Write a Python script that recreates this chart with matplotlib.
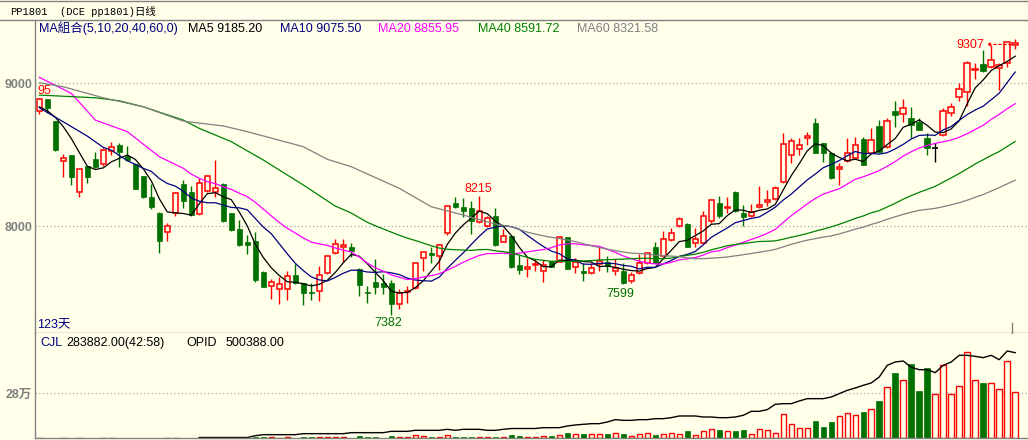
import numpy as np
import pandas as pd
import matplotlib
matplotlib.use("Agg")
import matplotlib.pyplot as plt
from matplotlib.lines import Line2D
from matplotlib.transforms import offset_copy

# -------------------------------
# DATA (PP1801 daily, 123 sessions)
# -------------------------------
opens = [
    8805, 8888, 8736, 8455, 8499, 8238, 8422, 8471, 8438, 8527,   # 0
    8569, 8494, 8436, 8352, 8207, 8094, 7962, 8095, 8296, 8238,   # 10
    8084, 8249, 8238, 8296, 8091, 7979, 7888, 7897, 7681, 7583,   # 20
    7564, 7559, 7659, 7601, 7541, 7548, 7671, 7811, 7857, 7853,   # 30
    7702, 7541, 7611, 7606, 7601, 7457, 7541, 7566, 7776, 7811,   # 40
    7795, 7951, 8161, 8137, 8130, 8032, 8002, 8074, 7892, 7932,   # 50
    7729, 7699, 7727, 7690, 7757, 7753, 7923, 7713, 7688, 7676,   # 60
    7736, 7748, 7690, 7685, 7620, 7671, 7741, 7858, 7792, 7901,   # 70
    8000, 8016, 7885, 7881, 8039, 8166, 8130, 8240, 8093, 8074,   # 80
    8137, 8168, 8189, 8312, 8499, 8538, 8615, 8720, 8580, 8515,   # 90
    8399, 8457, 8480, 8608, 8510, 8702, 8557, 8806, 8783, 8755,   # 100
    8731, 8615, 8545, 8636, 8790, 8906, 8941, 9091, 9135, 9116,   # 110
    9105, 9140, 9266,                                             # 120
]
highs = [
    8895, 8892, 8740, 8504, 8502, 8402, 8425, 8517, 8545, 8592,
    8585, 8562, 8440, 8355, 8296, 8097, 8021, 8240, 8324, 8282,
    8336, 8357, 8464, 8300, 8095, 8044, 7939, 7962, 7685, 7634,
    7643, 7690, 7736, 7606, 7601, 7722, 7797, 7909, 7909, 7885,
    7706, 7585, 7771, 7664, 7627, 7564, 7583, 7746, 7823, 7853,
    7874, 8149, 8205, 8198, 8179, 8215, 8072, 8126, 7979, 7937,
    7799, 7776, 7764, 7764, 7760, 7930, 7927, 7776, 7741, 7741,
    7853, 7792, 7771, 7741, 7680, 7806, 7820, 7892, 7969, 7990,
    8067, 8021, 7986, 8109, 8189, 8212, 8203, 8247, 8149, 8156,
    8282, 8254, 8282, 8650, 8615, 8615, 8662, 8755, 8585, 8520,
    8441, 8615, 8622, 8622, 8685, 8743, 8755, 8878, 8888, 8836,
    8755, 8650, 8580, 8825, 8860, 9000, 9158, 9140, 9233, 9261,
    9140, 9291, 9307,
]
lows = [
    8789, 8790, 8529, 8347, 8289, 8207, 8305, 8410, 8420, 8499,
    8413, 8460, 8260, 8200, 8123, 7815, 7899, 8072, 8126, 8072,
    8080, 8240, 8207, 8030, 7965, 7865, 7806, 7613, 7575, 7490,
    7457, 7485, 7597, 7448, 7485, 7480, 7668, 7806, 7753, 7783,
    7515, 7462, 7527, 7527, 7382, 7420, 7462, 7562, 7690, 7741,
    7694, 7940, 8126, 8063, 7946, 8021, 7995, 7862, 7888, 7711,
    7667, 7643, 7688, 7613, 7715, 7753, 7702, 7671, 7620, 7669,
    7690, 7680, 7659, 7599, 7604, 7664, 7736, 7741, 7785, 7897,
    7995, 7853, 7858, 7876, 8021, 8056, 8091, 8102, 8004, 8067,
    8130, 8140, 8184, 8305, 8441, 8499, 8569, 8510, 8452, 8330,
    8289, 8450, 8476, 8429, 8503, 8515, 8550, 8697, 8731, 8615,
    8673, 8499, 8452, 8629, 8771, 8878, 8841, 9028, 9081, 9110,
    8953, 9112, 9238,
]
closes = [
    8888, 8825, 8534, 8476, 8347, 8399, 8347, 8417, 8534, 8557,
    8522, 8464, 8263, 8203, 8137, 7899, 8002, 8231, 8179, 8079,
    8301, 8352, 8266, 8039, 7974, 7869, 7867, 7624, 7578, 7611,
    7599, 7652, 7601, 7531, 7532, 7657, 7792, 7874, 7871, 7825,
    7590, 7532, 7573, 7578, 7457, 7532, 7548, 7741, 7818, 7799,
    7869, 8142, 8133, 8109, 8039, 8107, 8056, 7869, 7932, 7718,
    7694, 7715, 7734, 7729, 7718, 7923, 7702, 7753, 7671, 7706,
    7760, 7722, 7706, 7606, 7659, 7741, 7811, 7746, 7909, 7951,
    8049, 7858, 7909, 8072, 8184, 8072, 8137, 8109, 8063, 8102,
    8149, 8184, 8266, 8573, 8599, 8569, 8631, 8515, 8510, 8336,
    8417, 8515, 8569, 8429, 8604, 8522, 8736, 8778, 8825, 8708,
    8673, 8545, 8545, 8808, 8836, 8958, 9140, 9098, 9088, 9163,
    9128, 9291, 9280,
]

# volume (CJL) and open interest, in 万 lots
volume = [
    0.12, 0.10, 0.15, 0.10, 0.12, 0.10, 0.10, 0.12, 0.10, 0.10,
    0.15, 0.10, 0.12, 0.12, 0.15, 0.20, 0.15, 0.15, 0.20, 0.20,
    0.25, 0.20, 0.25, 0.20, 0.25, 0.30, 0.25, 0.62, 0.62, 0.41,
    0.10, 0.41, 0.10, 0.41, 0.41, 0.41, 0.41, 0.41, 0.41, 0.20,
    1.04, 0.62, 0.62, 0.20, 1.04, 0.41, 0.41, 1.66, 1.04, 0.62,
    0.83, 2.07, 0.83, 0.83, 0.83, 0.83, 0.83, 0.83, 0.83, 1.66,
    1.04, 0.41, 0.83, 1.45, 1.04, 1.66, 2.90, 2.69, 2.28, 2.28,
    2.69, 2.28, 3.32, 2.28, 1.45, 2.69, 3.32, 1.66, 2.69, 3.11,
    2.69, 4.14, 2.07, 4.56, 5.80, 4.77, 4.14, 4.14, 4.77, 2.69,
    5.80, 5.18, 3.32, 15.13, 8.91, 6.42, 6.42, 10.36, 6.63, 9.74,
    13.88, 15.75, 14.50, 15.95, 18.23, 22.79, 31.91, 40.20, 36.26, 45.79,
    29.01, 43.72, 27.14, 45.17, 27.56, 32.53, 53.66, 36.26, 33.98, 33.98,
    30.67, 48.07, 28.39,
]
nan = np.nan
open_interest = [
    nan, nan, nan, nan, nan, nan, nan, nan, nan, nan,
    nan, nan, nan, nan, nan, nan, nan, nan, nan, nan,
    0.30, 0.30, 0.30, 0.30, 0.30, 0.30, 0.30, 1.45, 2.07, 2.07,
    2.07, 2.07, 2.07, 2.69, 2.69, 2.69, 2.69, 2.69, 2.69, 3.32,
    3.32, 3.32, 3.32, 3.32, 4.14, 4.14, 4.14, 4.77, 4.77, 4.77,
    4.77, 5.39, 4.77, 5.39, 5.39, 5.39, 4.77, 4.77, 5.39, 5.90,
    5.90, 5.90, 5.90, 6.42, 6.42, 6.42, 7.46, 8.08, 8.50, 8.91,
    8.91, 9.95, 11.40, 10.98, 10.98, 11.40, 11.40, 12.02, 12.02, 12.64,
    13.68, 13.68, 13.68, 13.05, 13.05, 12.64, 12.64, 13.05, 14.09, 16.58,
    16.58, 17.61, 20.93, 21.34, 21.34, 23.00, 24.45, 24.45, 24.45, 25.49,
    27.56, 29.63, 31.08, 32.74, 34.19, 37.92, 45.17, 47.24, 47.86, 43.93,
    42.48, 42.48, 40.61, 45.17, 47.24, 51.39, 51.39, 50.76, 49.94, 51.39,
    48.69, 54.08, 53.04,
]

# start of each MA line, before its window is full
ma_heads = {
    5: ([0, 1, 2, 3], [8836, 8808, 8762, 8697]),
    10: ([0, 3, 6, 8], [8829, 8731, 8631, 8552]),
    20: ([0, 4, 7, 11, 15, 18], [9042, 8930, 8743, 8662, 8487, 8406]),
    40: ([0, 7, 10, 13, 18, 20, 24, 28, 33, 37],
         [8918, 8899, 8878, 8836, 8743, 8685, 8592, 8464, 8289, 8142]),
    60: ([0, 3, 8, 13, 18, 20, 23, 26, 33, 36, 39, 45, 49, 53, 57],
         [9004, 8976, 8899, 8836, 8736, 8722, 8702, 8662, 8557, 8469,
          8417, 8266, 8137, 8079, 8016]),
}
ma_colors = {5: 'black', 10: '#000080', 20: '#FF00FF', 40: '#008000', 60: '#808080'}
legend_items = [
    ('MA組合(5,10,20,40,60,0)', '#000080', 39),
    ('MA5 9185.20', 'black', 188),
    ('MA10 9075.50', '#000080', 280),
    ('MA20 8855.95', '#FF00FF', 378),
    ('MA40 8591.72', '#008000', 478),
    ('MA60 8321.58', '#808080', 577),
]
price_grid = [8000, 9000]
vol_grid = [28]

df = pd.DataFrame({'open': opens, 'high': highs, 'low': lows, 'close': closes,
                   'vol': volume, 'oi': open_interest})

# -------------------------------
# STYLE / LAYOUT
# -------------------------------
W, H = 1028, 440
BG = '#FFFFEA'
RED = '#FF0000'
GREEN = '#007000'
GRAY = '#808080'
plt.rcParams['font.family'] = ['Liberation Sans', 'Noto Sans CJK SC']

fig = plt.figure(figsize=(W / 100, H / 100), dpi=100, facecolor=BG)
ax = fig.add_axes([35 / W, 1 - 333 / H, (W - 35) / W, (333 - 20) / H], facecolor=BG)
axv = fig.add_axes([35 / W, 1 - 438 / H, (W - 35) / W, (438 - 333) / H], facecolor=BG)

for a in (ax, axv):
    a.set_xlim(-0.54, 123.6)
    a.set_xticks([])
    for s in ('top', 'right'):
        a.spines[s].set_visible(False)
    for s in ('left', 'bottom'):
        a.spines[s].set_color(GRAY)
        a.spines[s].set_linewidth(1.0)
    a.tick_params(axis='y', length=0, pad=2, labelcolor=GRAY, labelsize=9)

ax.set_ylim(7254, 9443)
axv.set_ylim(0, 65.27)

# -------------------------------
# CANDLES
# -------------------------------
w = 0.68
up = df[df.close > df.open]
dn = df[df.close < df.open]
flat = df[df.close == df.open]

ax.vlines(up.index, up.close, up.high, color=RED, lw=1)
ax.vlines(up.index, up.low, up.open, color=RED, lw=1)
ax.bar(up.index, up.close - up.open, bottom=up.open, width=w,
       facecolor=BG, edgecolor=RED, lw=1.1, zorder=2)
ax.vlines(dn.index, dn.low, dn.high, color=GREEN, lw=1)
ax.bar(dn.index, dn.open - dn.close, bottom=dn.close, width=w,
       color=GREEN, edgecolor=GREEN, lw=0.5, zorder=2)
ax.vlines(flat.index, flat.low, flat.high, color='black', lw=1)
ax.hlines(flat.close, flat.index - w / 2, flat.index + w / 2, color='black', lw=1.2)

# moving averages
for n, (hi_idx, hi_val) in ma_heads.items():
    full = df['close'].rolling(n).mean()
    xs = list(hi_idx) + list(range(n - 1, len(df)))
    ys = list(hi_val) + list(full.iloc[n - 1:])
    ax.plot(xs, ys, color=ma_colors[n], lw=0.9, zorder=3)

for g in price_grid:
    ax.axhline(g, color='#A8A8A8', lw=0.9, ls=(0, (1, 2)), zorder=0)
ax.set_yticks(price_grid)
ax.set_yticklabels([str(g) for g in price_grid], fontweight='bold')

# high / low marks
i_hi = int(df['high'].idxmax())
i_lo = int(df['low'].idxmin())
i_mid_hi = int(df['high'].iloc[40:70].idxmax())
i_mid_lo = int(df['low'].iloc[60:90].idxmin())

ax.annotate('95', xy=(0, highs[0]), xytext=(-2, 4), textcoords='offset pixels',
            ha='left', va='baseline', color=RED, fontsize=9)
ax.annotate(f'{highs[i_mid_hi]}', xy=(i_mid_hi, highs[i_mid_hi]), xytext=(-1, 4),
            textcoords='offset pixels', ha='center', va='baseline', color=RED, fontsize=9)
ax.annotate(f'{lows[i_lo]}', xy=(i_lo, lows[i_lo]), xytext=(-3, -2),
            textcoords='offset pixels', ha='center', va='top', color=GREEN, fontsize=9)
ax.annotate(f'{lows[i_mid_lo]}', xy=(i_mid_lo, lows[i_mid_lo]), xytext=(-3, -4),
            textcoords='offset pixels', ha='center', va='top', color=GREEN, fontsize=9)
ax.annotate(f'{highs[i_hi]}', xy=(i_hi, highs[i_hi]), xytext=(-31, 0),
            textcoords='offset pixels', ha='right', va='top', color=RED, fontsize=9)
tr = offset_copy(ax.transData, fig=fig, x=0, y=-5, units='dots')
ax.annotate('', xy=(i_hi - 3.6, highs[i_hi]), xycoords=tr,
            xytext=(i_hi - 0.5, highs[i_hi]), textcoords=tr,
            arrowprops=dict(arrowstyle='->', color=RED, lw=0.9, ls=(0, (2, 2)),
                            shrinkA=0, shrinkB=0, mutation_scale=7))

# -------------------------------
# VOLUME PANEL
# -------------------------------
vol_up = df[df.close >= df.open]
vol_dn = df[df.close < df.open]
axv.bar(vol_up.index, vol_up.vol, width=w, facecolor=BG, edgecolor=RED, lw=1.0)
axv.bar(vol_dn.index, vol_dn.vol, width=w, color=GREEN, edgecolor=GREEN, lw=0.5)
axv.plot(df.index, df.oi, color='black', lw=1.0)
for g in vol_grid:
    axv.axhline(g, color='#A8A8A8', lw=0.9, ls=(0, (1, 2)), zorder=0)
axv.set_yticks(vol_grid)
axv.set_yticklabels([f'{g}万' for g in vol_grid], fontweight='bold')

# -------------------------------
# TEXTS AND FRAME
# -------------------------------
def fpos(x, y):
    return x / W, 1 - y / H

fig.text(*fpos(10, 15), 'PP1801', family=['Liberation Mono', 'Noto Sans CJK SC'],
         fontsize=7.5, va='baseline')
fig.text(*fpos(60, 15), '(DCE pp1801)日线', family=['Liberation Mono', 'Noto Sans CJK SC'],
         fontsize=7.5, va='baseline')

for label, col, x in legend_items:
    fig.text(*fpos(x, 32), label, color=col, fontsize=9, va='baseline')

fig.text(*fpos(37, 328), '123天', color='#000080', fontsize=9, va='baseline')
fig.text(*fpos(40, 346), 'CJL', color='#000080', fontsize=9, va='baseline')
fig.text(*fpos(66, 346), '283882.00(42:58)', color='black', fontsize=9, va='baseline')
fig.text(*fpos(186, 346), 'OPID', color='black', fontsize=9, va='baseline')
fig.text(*fpos(226, 346), '500388.00', color='black', fontsize=9, va='baseline')

for y in (0.7, 20):
    fig.add_artist(Line2D([0, 1], [1 - y / H] * 2, transform=fig.transFigure,
                          color=GRAY, lw=1))
fig.add_artist(Line2D([1012 / W] * 2, [1 - 323 / H, 1 - 333 / H],
                      transform=fig.transFigure, color=GRAY, lw=1))

fig.savefig('out.png', dpi=100, facecolor=BG)
